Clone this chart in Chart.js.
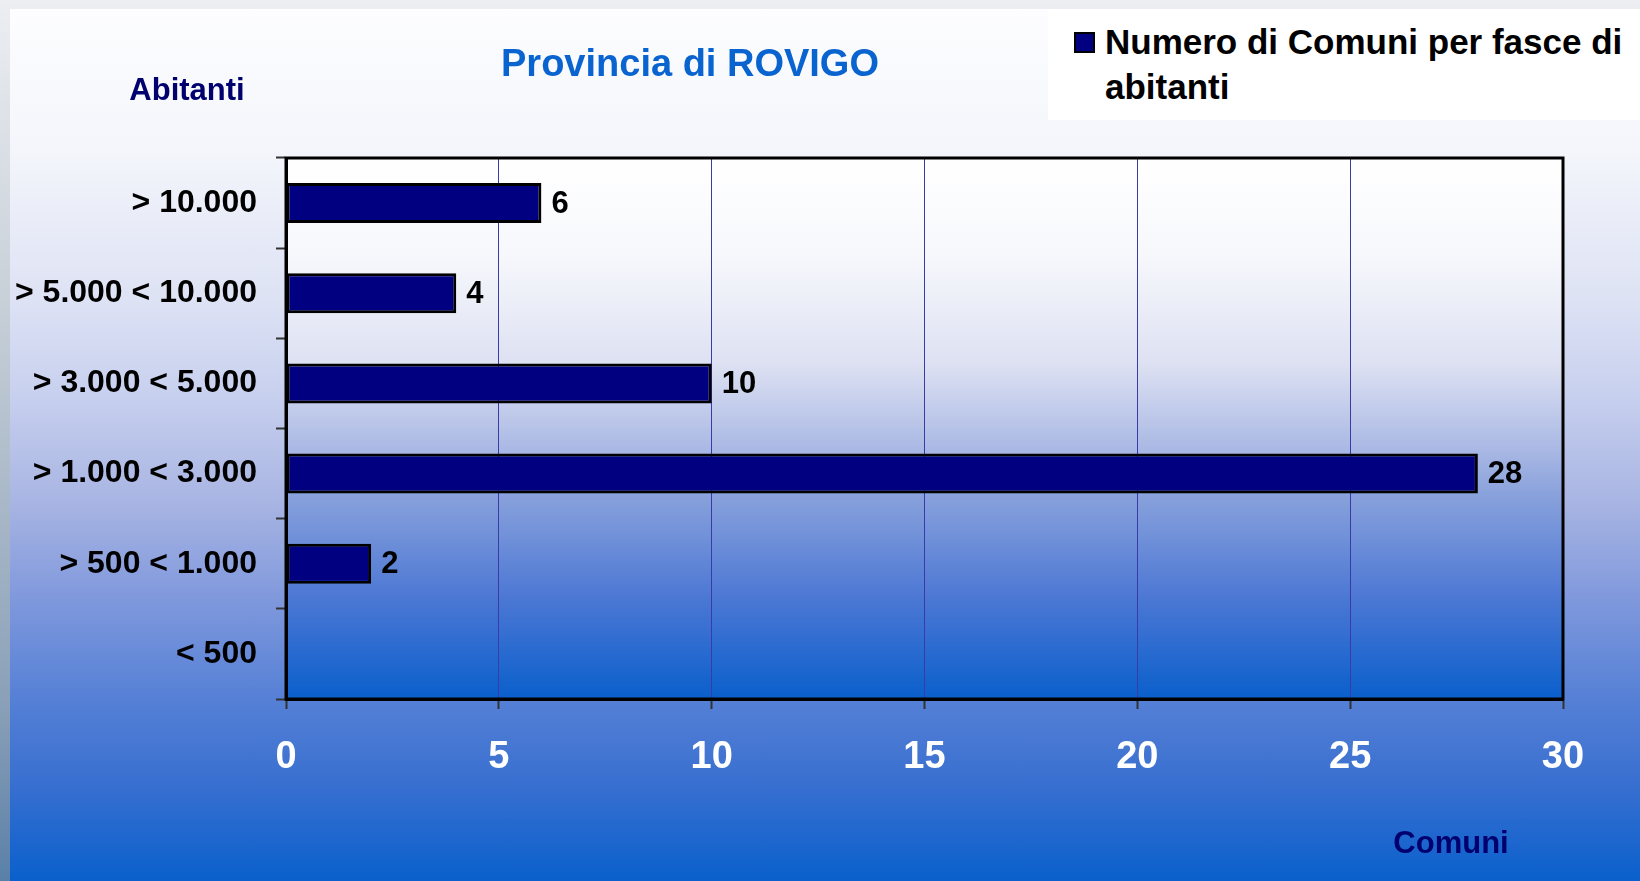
<!DOCTYPE html>
<html>
<head>
<meta charset="utf-8">
<script src="https://cdn.jsdelivr.net/npm/chart.js@4"></script>
<style>
    body {
        margin: 0;
        width: 1640px;
        height: 881px;
        overflow: hidden;
        position: relative;
        font-family: "Liberation Sans", Arial, sans-serif;
        font-weight: bold;
        background: linear-gradient(to bottom, #eceef2 0%, #c8d0d8 34%, #8aa0b8 80%, #5a80a8 100%);
    }
    #panel {
        position: absolute;
        left: 10px;
        top: 9px;
        width: 1630px;
        height: 872px;
        background: linear-gradient(to bottom, #fdfdff 0%, #f4f6fb 16%, #dde2f4 33.4%, #c6cfee 44.8%,
            #a9b5e3 56.3%, #7f98dc 67.8%, #5580d6 79.2%, #3a70d0 88.4%, #0a60cc 100%);
    }
    canvas#comuni-chart {
        position: absolute;
        left: 0;
        top: 0;
    }
    .label {
        position: absolute;
        line-height: 1;
        white-space: nowrap;
        transform: translate(-50%, -50%);
    }
    #title { left: 690px; top: 63px; font-size: 38px; color: #0a64d0; }
    #y-title { left: 187px; top: 89px; font-size: 31px; color: #00006e; }
    #x-title { left: 1451px; top: 842px; font-size: 31px; color: #00006e; }
    #legend {
        position: absolute;
        left: 1048px;
        top: 9px;
        width: 592px;
        height: 111px;
        background: #ffffff;
    }
    #legend .key {
        position: absolute;
        left: 26px;
        top: 23px;
        width: 17px;
        height: 17px;
        border: 2px solid #000;
    }
    #legend .text {
        position: absolute;
        left: 57px;
        top: 10px;
        width: 540px;
        font-size: 35px;
        line-height: 45px;
        color: #000;
    }
</style>
</head>
<body>
<div id="panel"></div>
<canvas id="comuni-chart" width="1640" height="881"></canvas>
<div class="label" id="title">Provincia di ROVIGO</div>
<div class="label" id="y-title">Abitanti</div>
<div class="label" id="x-title">Comuni</div>
<div id="legend"></div>
<script>
'use strict';

const fasce = ['> 10.000', '> 5.000 < 10.000', '> 3.000 < 5.000', '> 1.000 < 3.000', '> 500 < 1.000', '< 500'];
const numComuni = [6, 4, 10, 28, 2, 0];
const xTicks = [0, 5, 10, 15, 20, 25, 30];
const seriesName = 'Numero di Comuni per fasce di abitanti';

const fontFamily = '"Liberation Sans", Arial, sans-serif';

// gradient behind the plot area
const plotBackground = {
    id: 'plotBackground',
    beforeDraw(chart) {
        let area = chart.chartArea;
        let ctx = chart.ctx;
        let grad = ctx.createLinearGradient(0, area.top, 0, area.bottom);
        grad.addColorStop(0, '#ffffff');
        grad.addColorStop(0.18, '#f7f8fc');
        grad.addColorStop(0.38, '#dde1f2');
        grad.addColorStop(0.54, '#a9b8e4');
        grad.addColorStop(0.62, '#8aa2dc');
        grad.addColorStop(0.81, '#4d78d4');
        grad.addColorStop(1, '#0a5fcc');
        ctx.save();
        ctx.fillStyle = grad;
        ctx.fillRect(area.left, area.top, area.right - area.left, area.bottom - area.top);
        ctx.restore();
    }
};

// black frame + value labels at the end of bars
const frameAndValues = {
    id: 'frameAndValues',
    afterDatasetsDraw(chart) {
        let ctx = chart.ctx;
        let area = chart.chartArea;
        ctx.save();
        ctx.strokeStyle = '#000';
        ctx.lineWidth = 3;
        ctx.strokeRect(area.left, area.top, area.right - area.left, area.bottom - area.top);

        ctx.fillStyle = '#000';
        ctx.font = 'bold 31px ' + fontFamily;
        ctx.textBaseline = 'middle';
        ctx.textAlign = 'left';
        chart.getDatasetMeta(0).data.forEach((bar, i) => {
            let v = chart.data.datasets[0].data[i];
            if (v > 0) {
                ctx.fillText(String(v), bar.x + 10, bar.y + 1);
            }
        });
        ctx.restore();
    }
};

const ctx = document.getElementById('comuni-chart').getContext('2d');
const comuniChart = new Chart(ctx, {
    type: 'bar',
    data: {
        labels: fasce,
        datasets: [{
            label: seriesName,
            data: numComuni,
            backgroundColor: '#000080',
            borderColor: '#000000',
            borderWidth: numComuni.map(v => v > 0 ? 3 : 0),
            borderSkipped: false,
            barPercentage: 0.443,
            categoryPercentage: 1
        }]
    },
    options: {
        indexAxis: 'y',
        responsive: false,
        animation: false,
        events: [],
        layout: {
            padding: { top: 158, right: 77, left: 0, bottom: 0 }
        },
        plugins: {
            legend: { display: false },
            title: { display: false },
            tooltip: { enabled: false }
        },
        scales: {
            x: {
                min: xTicks[0],
                max: xTicks[xTicks.length - 1],
                afterBuildTicks: scale => { scale.ticks = xTicks.map(v => ({ value: v })); },
                afterFit: scale => { scale.height = 182; },
                ticks: {
                    color: '#ffffff',
                    font: { family: fontFamily, size: 38, weight: 'bold' },
                    padding: 26,
                    maxRotation: 0
                },
                grid: {
                    color: '#3a3aa8',
                    lineWidth: 1,
                    tickLength: 10,
                    tickColor: '#333333',
                    tickWidth: 2
                },
                border: { display: true, color: '#000', width: 3 }
            },
            y: {
                afterFit: scale => { scale.width = 286; },
                ticks: {
                    color: '#000000',
                    font: { family: fontFamily, size: 32, weight: 'bold' },
                    padding: 19
                },
                grid: {
                    offset: true,
                    drawOnChartArea: false,
                    tickLength: 10,
                    tickColor: '#333333',
                    tickWidth: 2
                },
                border: { display: true, color: '#000', width: 3 }
            }
        }
    },
    plugins: [plotBackground, frameAndValues]
});

// legend built from the dataset
function renderLegend(chart) {
    let legendElem = document.getElementById('legend');
    let ds = chart.data.datasets[0];
    let keyElem = document.createElement('div');
    keyElem.className = 'key';
    keyElem.style.background = ds.backgroundColor;
    let textElem = document.createElement('div');
    textElem.className = 'text';
    textElem.textContent = ds.label;
    legendElem.appendChild(keyElem);
    legendElem.appendChild(textElem);
}

renderLegend(comuniChart);
</script>
</body>
</html>
